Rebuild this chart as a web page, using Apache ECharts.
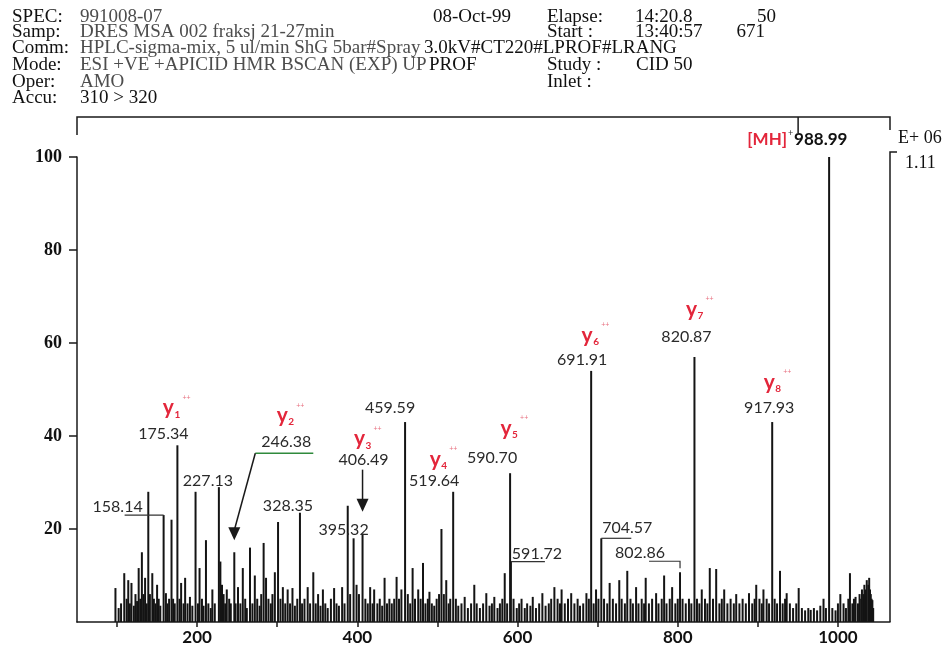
<!DOCTYPE html>
<html><head><meta charset="utf-8">
<script src="https://cdn.jsdelivr.net/npm/echarts@6/dist/echarts.min.js"></script>
<style>html,body{margin:0;padding:0;background:#fff}#c{width:950px;height:648px}</style>
</head><body><div id="c"></div>
<script>
// ---- data (m/z, relative intensity %) ----
const peakMz = [
  98,102,105,109,112,114,116,118,121,123,125,127,129,131,133,135,137,139,141,144,146,148,150,152,154,
  158.14,161,163,165,168,170,172,175.34,178,180,183,185,188,191,194,198,
  201,203,206,208,211,214,217,219,222,227.13,229,231,233,235,237,240,242,246.38,248,251,254,257,260,262,266,269,272,275,278,280,283,286,289,292,294,297,
  301,304,307,310,313,316,319,322,325,328.35,331,334,338,341,345,348,351,354,357,360,363,367,371,374,377,381,384,388,391,395.32,399,
  402,406.49,410,413,416,419,421,425,428,431,434,437,440,443,446,449,452,455,459.59,463,466,469,472,476,479,482,485,488,490,493,496,499,
  502,505,508,511,514,516,519.64,523,526,530,534,538,542,546,549,553,557,561,565,568,571,575,578,581,584,587,590.70,591.72,595,599,
  602,605,609,612,616,619,623,627,631,635,639,642,646,650,653,655,659,663,667,671,675,678,682,686,689,691.91,695,698,
  701,704.57,708,712,715,719,723,727,730,734,737,741,744,748,751,755,758,760,764,768,773,776,780,783,786,790,793,797,
  800,802.86,806,810,814,817,820.87,824,827,830,834,837,840,844,848,852,855,858,862,866,870,873,877,881,885,889,893,896,898,
  902,905,907,911,914,917.93,921,924,927.7,931,934,936,940,944,948,951,955,959,963,966,970,974,978,982,985,988.99,993,997,
  1000,1003,1007,1010,1013,1015,1018,1020,1022,1025,1027,1029,1030,1032,1033,1035,1036,1038,1039,1040,1041,1042,1043,1044
];
const peakIntensity = [
  7.3,3,4,10.5,5,9,4,8.4,3.5,6,4.5,11.6,5,15,6,9.5,4,28,6,10.5,5,4,8,5,3.5,
  23,6.2,4,5,22,5,4,38,5,8.4,4,9.5,4,5.4,3.5,28,
  4,11.6,5,3.5,17.6,4,3,7,4,29,13,8,6,4,7,5,4,15,4,7.5,4,11.6,5,3,16,4,10,5,3.5,6,17,9.5,5,4,6,10.7,
  21.5,5,7.5,4,7,4,7.3,3.5,5,23.5,4,5,7.5,4,10.7,4,6,3.5,7,4,3,5,7.3,4,3.5,7.5,4,25,6,18,8,
  6,19,5,4,7.5,4,7,4,5,3.5,9.5,4,5,4,5,9.7,5,7,43,6,4,11.6,5,7,5,12.7,4,5,6.5,4,3.5,5,
  6,20,6,9,4,5,28,5,3.5,4,5.4,3,4,8,4,3,4,6.2,3.5,4,5.4,3,4,5,10.5,4,32,13,5,3,
  4,5,3,4,3.5,5.4,3,4,6.2,3.5,4,5,7.5,5,4,7,4,5,6.2,4,5,3.5,4,6.2,5,54,4,7,
  5,18,5,4,8.4,5,4,9,5,4,11,5,4,7.5,4,5,4,9.5,4,5,6.2,4,5,10,4,5,7.5,4,
  5,10.7,5,4,5,4,57,5,4,7,5,4,11.6,5,11.4,4,5,7,4,5,4,6,4,5,4,6.2,4,5,8,
  5,4,7,5,4,43,5,4,11,4,5,6.2,4,3,4,7.3,3,2.5,3,2.6,3,2.5,3.5,5,3,100,3,2.5,
  4,6,4,3,5,10.5,4,5,5.4,4,6,5,7,6,8,7,9,8,9.5,7,6,5,4.7,3
];
const xTickValues = [100,200,300,400,500,600,700,800,900,1000];
const xLabelValues = [200,400,600,800,1000];
const yTickValues = [20,40,60,80,100];
const labelledPeaks = ['158.14','175.34','227.13','246.38','328.35','395.32','406.49','459.59','519.64','590.70','591.72','691.91','704.57','802.86','820.87','917.93'];
const parentPeak = '988.99';
const ionNumbers = ['1','2','3','4','5','6','7','8'];
const ionPeaks = ['175.34','246.38','406.49','519.64','590.70','691.91','820.87','917.93'];
const headerKeys = ['SPEC:','Samp:','Comm:','Mode:','Oper:','Accu:'];
const headerValues = ['991008-07','DRES MSA 002 fraksj 21-27min','HPLC-sigma-mix, 5 ul/min ShG 5bar#Spray','ESI +VE +APICID HMR BSCAN (EXP) UP','AMO','310 > 320'];

// ---- layout (pixel offsets relative to peak tops) ----
const labelLayout = {
  '158.14': {dx:-46, dy:-8, lead:[[-39,0],[0,0]]},
  '175.34': {dx:-14, dy:-11},
  '227.13': {dx:-11, dy:-6},
  '246.38': {dx:52, dy:-110, green:[[21,-99],[79,-99]], arrow:[[21,-99],[0,-12]]},
  '328.35': {dx:-12, dy:-7},
  '395.32': {dx:-10, dy:-8},
  '406.49': {dx:1, dy:-74, arrow:[[0,-64],[0,-22]]},
  '459.59': {dx:-15, dy:-14},
  '519.64': {dx:-19, dy:-11},
  '590.70': {dx:-18, dy:-15},
  '591.72': {dx:26, dy:-8, lead:[[0,0],[34,0]]},
  '691.91': {dx:-9, dy:-11},
  '704.57': {dx:26, dy:-10, lead:[[0,0],[30,0]]},
  '802.86': {dx:-40, dy:-19, lead:[[-31,-11],[0,-11],[0,-4]]},
  '820.87': {dx:-8, dy:-20},
  '917.93': {dx:-3, dy:-14}
};
const ionLayout = [[-5,-35],[52,-134],[1,-92],[-14,-30],[0,-42],[0,-33],[1,-45],[1,-37]];

const X_MIN = 50, X_MAX = 1065;
const RED = '#e3263b', INK = '#1a1a1a';
const chart = echarts.init(document.getElementById('c'), null, {renderer:'canvas'});
chart.setOption({
  animation:false,
  backgroundColor:'#fff',
  grid:{left:77, right:60, top:157, bottom:26},
  xAxis:{type:'value', min:X_MIN, max:X_MAX, splitLine:{show:false},
    axisLine:{lineStyle:{color:INK, width:1.5}},
    axisTick:{customValues:xTickValues, length:5, lineStyle:{color:INK, width:1.5}},
    axisLabel:{customValues:xLabelValues, formatter:v=>String(v), margin:7, fontFamily:'Lato', fontWeight:'bold', fontSize:17, color:'#111'}},
  yAxis:{type:'value', min:0, max:100, splitLine:{show:false},
    axisLine:{show:true, lineStyle:{color:INK, width:1.5}},
    axisTick:{show:true, customValues:yTickValues, length:8, lineStyle:{color:INK, width:1.5}},
    axisLabel:{customValues:yTickValues, margin:15, fontFamily:'Liberation Serif', fontWeight:'bold', fontSize:18, color:'#111'}},
  series:[{type:'bar', silent:true, barWidth:2, itemStyle:{color:'#141414'},
    data:peakMz.map((m,i)=>[m, peakIntensity[i]])}]
});

const px = (m,v)=>chart.convertToPixel({gridIndex:0},[m,v]);
const peakTop = t => { const m = parseFloat(t); const i = peakMz.indexOf(m); return px(m, peakIntensity[i]); };
const els = [];
function txt(x,y,text,font,fill,align){
  els.push({type:'text', x, y, silent:true, z:10,
    style:{text, font, fill, textAlign:align||'left', textVerticalAlign:'middle', align:align||'left', verticalAlign:'middle'}});
}
function line(pts,color,w){
  els.push({type:'polyline', silent:true, z:9, shape:{points:pts}, style:{stroke:color||INK, lineWidth:w||1.2, fill:null}});
}
function arrowHead(x,y,color){
  els.push({type:'polygon', silent:true, z:9, shape:{points:[[x,y],[x-6,y-13],[x+6,y-13]]}, style:{fill:color||INK}});
}

// header block
const serif = '19px "Liberation Serif"';
const rowY = [17,32,48,65,82,98];
headerKeys.forEach((k,i)=>{
  txt(12,rowY[i],k,serif,'#111');
  txt(80,rowY[i],headerValues[i],serif, i===5 ? '#111' : '#4d4d4d');
});
txt(433,rowY[0],'08-Oct-99',serif,'#111');
txt(547,rowY[0],'Elapse:',serif,'#111');
txt(635,rowY[0],'14:20.8',serif,'#111');
txt(776,rowY[0],'50',serif,'#111','right');
txt(547,rowY[1],'Start :',serif,'#111');
txt(635,rowY[1],'13:40:57',serif,'#111');
txt(765,rowY[1],'671',serif,'#111','right');
txt(424,rowY[2],'3.0kV#CT220#LPROF#LRANG',serif,'#111');
txt(429,rowY[3],'PROF',serif,'#111');
txt(547,rowY[3],'Study :',serif,'#111');
txt(636,rowY[3],'CID 50',serif,'#111');
txt(547,rowY[4],'Inlet :',serif,'#111');

// frame decorations
const tl = px(X_MIN,100), br = px(X_MAX,0);
const topY = tl[1]-40;
line([[tl[0],tl[1]-22],[tl[0],topY],[br[0],topY],[br[0],topY+13]], INK, 1.5);
const mh = peakTop(parentPeak);
line([[mh[0]-31,topY],[mh[0]-31,topY+16]], INK, 1.5);
line([[br[0]+7,tl[1]-5],[br[0],tl[1]-5],[br[0],br[1]]], INK, 1.5);
txt(br[0]+8, 138, 'E+ 06', '18px "Liberation Serif"', '#111');
txt(br[0]+15, 163, '1.11', '18px "Liberation Serif"', '#111');

// peak labels
const numFont = '16px Lato';
labelledPeaks.forEach(t=>{
  const p = peakTop(t), L = labelLayout[t];
  txt(p[0]+L.dx, p[1]+L.dy, t, numFont, '#2a2a2a', 'center');
  if (L.lead) line(L.lead.map(q=>[p[0]+q[0], p[1]+q[1]]), '#333', 1.2);
  if (L.green) line(L.green.map(q=>[p[0]+q[0], p[1]+q[1]]), '#2f8a3c', 1.6);
  if (L.arrow) {
    const a = L.arrow.map(q=>[p[0]+q[0], p[1]+q[1]]);
    line([a[0],[a[1][0],a[1][1]-10]], INK, 1.5);
    arrowHead(a[1][0], a[1][1]);
  }
});
// parent ion
txt(mh[0]-35, mh[1]-17, parentPeak, 'bold 17px Lato', '#111');
txt(mh[0]-42, mh[1]-17, '[MH]', 'bold 17px Lato', RED, 'right');
txt(mh[0]-41, mh[1]-24, '+', '9px Lato', '#333');

// y-ion labels
ionPeaks.forEach((t,i)=>{
  const p = peakTop(t), o = ionLayout[i];
  const cx = p[0]+o[0], cy = p[1]+o[1];
  txt(cx-4, cy-3, 'y', 'bold 21px Lato', RED, 'center');
  txt(cx+2, cy+4, ionNumbers[i], 'bold 10px Lato', RED);
  txt(cx+10, cy-13, '++', '7px Lato', '#e87080');
});

chart.setOption({graphic:{elements:els}});
</script>
</body></html>
